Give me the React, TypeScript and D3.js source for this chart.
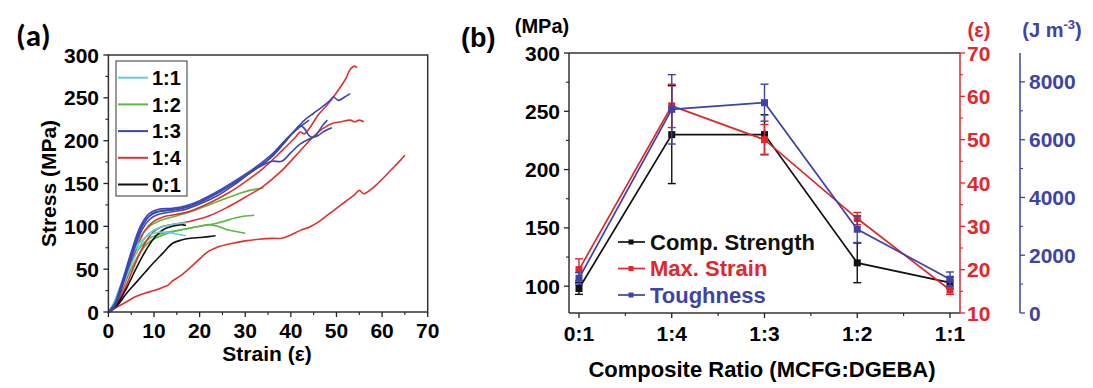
import React from 'react';
import * as d3 from 'd3';

// ---------- Panel (a): stress-strain curves [strain, stress] ----------
const cyan1 = [[0, 0], [1, 8], [3, 36], [5, 64], [7, 82], [9, 90], [11, 93], [13, 93], [15, 91], [17, 89]];
const cyan2 = [[0, 0], [1, 6], [3, 28], [5, 55], [7, 78], [9, 92], [11, 98], [13, 101], [15, 103], [17, 104]];

const green1 = [[0, 0], [1, 8], [3, 35], [5, 65], [7, 88], [9, 100], [11, 106], [14, 111], [18, 117], [22, 125], [26, 133], [29, 139], [31, 142], [34, 145]];
const green2 = [[0, 0], [1, 8], [3, 32], [5, 58], [7, 76], [9, 86], [12, 92], [16, 96], [20, 100], [24, 104], [28, 110], [30, 112], [32, 113]];
const green3 = [[0, 0], [1, 6], [3, 26], [5, 50], [7, 70], [9, 82], [12, 90], [16, 96], [20, 100], [22, 102], [24, 100], [26, 96], [28, 94], [30, 92]];

const blue1 = [[0, 0], [1, 5], [3, 35], [5, 70], [7, 100], [9, 115], [11, 120], [14, 121], [17, 124], [20, 130], [24, 141], [28, 154], [32, 168], [36, 185], [39, 202], [41, 212], [43, 224], [45, 232], [47, 240], [48.6, 247], [49.3, 251], [50.4, 247], [51.8, 251], [53, 255]];
const blue2 = [[0, 0], [1, 4], [3, 33], [5, 66], [7, 96], [9, 112], [11, 117], [14, 119], [17, 122], [20, 128], [24, 139], [28, 152], [32, 166], [36, 182], [39, 200], [41, 213], [42, 218], [43, 214], [44, 206], [45, 204], [46, 210], [47, 218], [48, 224]];
const blue3 = [[0, 0], [1, 3], [3, 30], [5, 62], [7, 92], [9, 108], [11, 114], [14, 117], [17, 120], [20, 126], [24, 136], [28, 150], [32, 166], [34, 172], [36, 176], [38, 176], [40, 186], [42, 196], [44, 202], [46, 206], [47, 210], [49, 215]];
const blue4 = [[0, 0], [2, 15], [4, 48], [6, 82], [8, 106], [10, 116], [13, 119], [16, 121], [20, 128], [24, 139], [28, 152], [32, 166], [35, 178], [38, 195], [40, 207], [42, 216], [44, 224]];

const red1 = [[0, 0], [2, 12], [4, 40], [6, 72], [8, 95], [10, 106], [12, 111], [15, 114], [18, 118], [22, 127], [26, 138], [30, 152], [34, 168], [38, 188], [41, 204], [42, 210], [43, 208], [44, 214], [46, 230], [48, 242], [50, 256], [52, 272], [53, 283], [54, 287], [54.5, 285]];
const red2 = [[0, 0], [2, 10], [4, 32], [6, 58], [8, 80], [10, 94], [12, 100], [15, 103], [18, 106], [22, 112], [26, 122], [30, 134], [34, 147], [38, 165], [42, 188], [45, 205], [47, 214], [49, 220], [51, 222], [53, 224], [54, 222], [55, 224], [56, 222]];
const red3 = [[0, 0], [2, 6], [4, 12], [6, 18], [8, 22], [10, 25], [12, 29], [13, 31], [14, 36], [16, 43], [18, 52], [20, 62], [22, 71], [24, 76], [27, 80], [30, 83], [33, 85], [36, 86], [38, 86], [40, 90], [42, 95], [44, 99], [46, 105], [48, 113], [50, 121], [52, 129], [54, 137], [55, 142], [56, 138], [58, 145], [60, 155], [62, 166], [64, 177], [65, 183]];

const black1 = [[0, 0], [2, 10], [4, 28], [6, 50], [8, 70], [10, 86], [12, 96], [14, 100], [16, 102], [17, 101]];
const black2 = [[0, 0], [2, 8], [4, 22], [6, 34], [8, 46], [10, 58], [12, 69], [14, 80], [16, 84], [18, 86], [20, 87], [22, 88], [23.5, 89]];

const legendA = [
  { label: '1:1', color: '#5fd0d8' },
  { label: '1:2', color: '#5cb940' },
  { label: '1:3', color: '#3a48b0' },
  { label: '1:4', color: '#e2302c' },
  { label: '0:1', color: '#111111' },
];

const curvesA = [
  { color: '#5cb940', pts: green1 }, { color: '#5cb940', pts: green2 }, { color: '#5cb940', pts: green3 },
  { color: '#e2302c', pts: red3 }, { color: '#e2302c', pts: red2 }, { color: '#e2302c', pts: red1 },
  { color: '#111111', pts: black1 }, { color: '#111111', pts: black2 },
  { color: '#5fd0d8', pts: cyan1 }, { color: '#5fd0d8', pts: cyan2 },
  { color: '#3a48b0', pts: blue1 }, { color: '#3a48b0', pts: blue2 }, { color: '#3a48b0', pts: blue3 }, { color: '#3a48b0', pts: blue4 },
];

// ---------- Panel (b): property vs composite ratio ----------
const ratios = ['0:1', '1:4', '1:3', '1:2', '1:1'];
const strength = [98, 230, 230, 120, 103];
const strengthErr = [5, 42, 17, 17, 5];
const maxStrain = [20, 57.8, 50, 31.8, 15.3];
const maxStrainErr = [2.5, 5, 3.5, 1.4, 1];
const toughness = [1200, 7050, 7280, 2900, 1170];
const toughnessErr = [200, 1200, 640, 460, 250];

const FONT = "'Liberation Sans', Arial, Helvetica, sans-serif";
const RED = '#e2262a';
const BLUE = '#3d43a8';

const App: React.FC = () => {
  // scales panel (a)
  const xA = d3.scaleLinear().domain([0, 70]).range([108.4, 427.7]);
  const yA = d3.scaleLinear().domain([0, 300]).range([312, 55]);
  const lineA = d3.line<number[]>()
    .x(d => xA(d[0]))
    .y(d => yA(d[1]))
    .curve(d3.curveCatmullRom.alpha(0.5));

  // scales panel (b)
  const xB = d3.scalePoint<string>().domain(ratios).range([579, 950]);
  const yL = d3.scaleLinear().domain([77, 300]).range([313, 53]);
  const yR = d3.scaleLinear().domain([10, 70]).range([313, 53]);
  const yT = d3.scaleLinear().domain([0, 9000]).range([313, 53]);
  const bLeft = 569, bRight = 960, bTop = 53, bBot = 313, tAxis = 1020;

  const series = [
    { name: 'Comp. Strength', color: '#111111', vals: strength, err: strengthErr, y: yL },
    { name: 'Max. Strain', color: RED, vals: maxStrain, err: maxStrainErr, y: yR },
    { name: 'Toughness', color: BLUE, vals: toughness, err: toughnessErr, y: yT },
  ];

  const tickFont = { fontFamily: FONT, fontWeight: 700, fontSize: 21 } as const;

  const xMinorB = ratios.slice(1).map((r, i) => ((xB(ratios[i]) as number) + (xB(r) as number)) / 2);

  return (
    <svg width={1093} height={388} style={{ display: 'block', position: 'absolute', left: 0, top: 0 }}>
      <rect width={1093} height={388} fill="#fff" />
      {/* ================= Panel (a) ================= */}
      <text x={16} y={46} style={{ fontFamily: "Carlito, 'Liberation Sans', sans-serif", fontWeight: 700, fontSize: 31 }}>(a)</text>

      {/* curves */}
      <g fill="none" strokeWidth={1.6} strokeLinejoin="round">
        {curvesA.map((c, i) => (
          <path key={i} d={lineA(c.pts) || ''} stroke={c.color} />
        ))}
      </g>

      {/* frame */}
      <rect x={xA(0)} y={yA(300)} width={xA(70) - xA(0)} height={yA(0) - yA(300)} fill="none" stroke="#333" strokeWidth={1.5} />

      {/* y axis */}
      {d3.range(0, 301, 50).map(v => (
        <g key={'ya' + v}>
          <line x1={xA(0) - 5} x2={xA(0)} y1={yA(v)} y2={yA(v)} stroke="#222" strokeWidth={1.3} />
          <text x={99} y={yA(v)} dy="0.36em" textAnchor="end" style={tickFont}>{v}</text>
        </g>
      ))}
      {d3.range(25, 300, 50).map(v => (
        <line key={'yam' + v} x1={xA(0) - 3} x2={xA(0)} y1={yA(v)} y2={yA(v)} stroke="#222" strokeWidth={1.1} />
      ))}
      {/* x axis */}
      {d3.range(0, 71, 10).map(v => (
        <g key={'xa' + v}>
          <line x1={xA(v)} x2={xA(v)} y1={yA(0)} y2={yA(0) + 5} stroke="#222" strokeWidth={1.3} />
          <text x={xA(v)} y={338} textAnchor="middle" style={tickFont}>{v}</text>
        </g>
      ))}
      {d3.range(5, 70, 10).map(v => (
        <line key={'xam' + v} x1={xA(v)} x2={xA(v)} y1={yA(0)} y2={yA(0) + 3} stroke="#222" strokeWidth={1.1} />
      ))}
      <text x={267} y={361} textAnchor="middle" style={{ ...tickFont, fontSize: 21 }}>Strain (ε)</text>
      <text transform={`translate(56, ${(yA(0) + yA(300)) / 2}) rotate(-90)`} textAnchor="middle" style={{ ...tickFont, fontSize: 21 }}>Stress (MPa)</text>

      {/* legend (a) */}
      <rect x={116} y={61} width={71} height={135} fill="#fff" stroke="#555" strokeWidth={1.2} />
      {legendA.map((l, i) => {
        const cy = 77.7 + i * 26.7;
        return (
          <g key={l.label}>
            <line x1={118} x2={148} y1={cy} y2={cy} stroke={l.color} strokeWidth={2} />
            <text x={152} y={cy} dy="0.36em" style={{ ...tickFont, fontSize: 20 }}>{l.label}</text>
          </g>
        );
      })}

      {/* ================= Panel (b) ================= */}
      <text x={461} y={47} style={{ fontFamily: FONT, fontWeight: 700, fontSize: 27 }}>(b)</text>
      <text x={542} y={33} textAnchor="middle" style={{ ...tickFont, fontSize: 20 }}>(MPa)</text>
      <text x={979} y={37} textAnchor="middle" fill={RED} style={{ ...tickFont, fontSize: 20 }}>(ε)</text>
      <text x={1052} y={37} textAnchor="middle" fill={BLUE} style={{ ...tickFont, fontSize: 20 }}>
        (J m<tspan dy={-8} fontSize={13}>-3</tspan><tspan dy={8}>)</tspan>
      </text>

      {/* frame top + left + bottom */}
      <line x1={bLeft} x2={bRight} y1={bTop} y2={bTop} stroke="#333" strokeWidth={1.5} />
      <line x1={bLeft} x2={bLeft} y1={bTop} y2={bBot} stroke="#333" strokeWidth={1.5} />
      <line x1={bLeft} x2={bRight} y1={bBot} y2={bBot} stroke="#333" strokeWidth={1.5} />

      {/* left axis */}
      {d3.range(100, 301, 50).map(v => (
        <g key={'yl' + v}>
          <line x1={bLeft - 5} x2={bLeft} y1={yL(v)} y2={yL(v)} stroke="#222" strokeWidth={1.3} />
          <text x={560} y={yL(v)} dy="0.36em" textAnchor="end" style={tickFont}>{v}</text>
        </g>
      ))}
      {d3.range(125, 300, 50).map(v => (
        <line key={'ylm' + v} x1={bLeft - 3} x2={bLeft} y1={yL(v)} y2={yL(v)} stroke="#222" strokeWidth={1.1} />
      ))}

      {/* bottom axis */}
      {ratios.map(r => (
        <g key={'xb' + r}>
          <line x1={xB(r)} x2={xB(r)} y1={bBot} y2={bBot + 5} stroke="#222" strokeWidth={1.3} />
          <text x={xB(r)} y={341} textAnchor="middle" style={tickFont}>{r}</text>
        </g>
      ))}
      {xMinorB.map((x, i) => (
        <line key={'xbm' + i} x1={x} x2={x} y1={bBot} y2={bBot + 3} stroke="#222" strokeWidth={1.1} />
      ))}
      <text x={762} y={377} textAnchor="middle" style={{ ...tickFont, fontSize: 22 }}>Composite Ratio (MCFG:DGEBA)</text>

      {/* right red axis */}
      <line x1={bRight} x2={bRight} y1={bTop} y2={bBot} stroke={RED} strokeWidth={1.5} />
      {d3.range(10, 71, 10).map(v => (
        <g key={'yr' + v}>
          <line x1={bRight} x2={bRight + 5} y1={yR(v)} y2={yR(v)} stroke={RED} strokeWidth={1.3} />
          <text x={967} y={yR(v)} dy="0.36em" fill={RED} style={tickFont}>{v}</text>
        </g>
      ))}
      {d3.range(15, 70, 10).map(v => (
        <line key={'yrm' + v} x1={bRight} x2={bRight + 3} y1={yR(v)} y2={yR(v)} stroke={RED} strokeWidth={1.1} />
      ))}

      {/* far right blue axis */}
      <line x1={tAxis} x2={tAxis} y1={bTop} y2={bBot} stroke={BLUE} strokeWidth={1.5} />
      {d3.range(0, 8001, 2000).map(v => (
        <g key={'yt' + v}>
          <line x1={tAxis} x2={tAxis + 5} y1={yT(v)} y2={yT(v)} stroke={BLUE} strokeWidth={1.3} />
          <text x={1029} y={yT(v)} dy="0.36em" fill={BLUE} style={tickFont}>{v}</text>
        </g>
      ))}
      {d3.range(1000, 9000, 2000).map(v => (
        <line key={'ytm' + v} x1={tAxis} x2={tAxis + 3} y1={yT(v)} y2={yT(v)} stroke={BLUE} strokeWidth={1.1} />
      ))}

      {/* series */}
      {series.map(s => {
        const line = d3.line<number>()
          .x((_, i) => xB(ratios[i]) as number)
          .y(d => s.y(d));
        return (
          <g key={s.name}>
            <path d={line(s.vals) || ''} fill="none" stroke={s.color} strokeWidth={1.7} />
            {s.vals.map((v, i) => {
              const x = xB(ratios[i]) as number;
              const y0 = s.y(v - s.err[i]);
              const y1 = s.y(v + s.err[i]);
              return (
                <g key={i} stroke={s.color} strokeWidth={1.4}>
                  <line x1={x} x2={x} y1={y0} y2={y1} />
                  <line x1={x - 4} x2={x + 4} y1={y0} y2={y0} />
                  <line x1={x - 4} x2={x + 4} y1={y1} y2={y1} />
                  <rect x={x - 3.5} y={s.y(v) - 3.5} width={7} height={7} fill={s.color} stroke="none" />
                </g>
              );
            })}
          </g>
        );
      })}

      {/* legend (b) */}
      {series.map((s, i) => {
        const cy = 242 + i * 26.5;
        return (
          <g key={'lb' + s.name}>
            <line x1={618} x2={645} y1={cy} y2={cy} stroke={s.color} strokeWidth={1.7} />
            <rect x={628.5} y={cy - 2.5} width={5} height={5} fill={s.color} />
            <text x={650} y={cy} dy="0.36em" fill={s.color} style={{ ...tickFont, fontSize: 22 }}>{s.name}</text>
          </g>
        );
      })}
    </svg>
  );
};

export default App;
